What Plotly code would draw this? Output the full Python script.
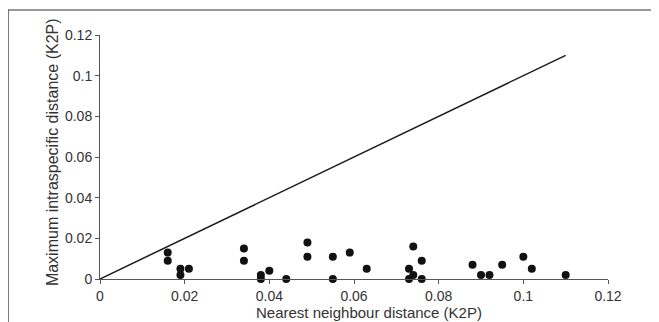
import plotly.graph_objects as go

nn_dist = [0.016, 0.016, 0.019, 0.019, 0.021, 0.034, 0.034, 0.038, 0.038, 0.040,
           0.044, 0.049, 0.049, 0.055, 0.055, 0.059, 0.063, 0.073, 0.073, 0.074,
           0.074, 0.076, 0.076, 0.088, 0.090, 0.092, 0.095, 0.100, 0.102, 0.110]
max_intra = [0.013, 0.009, 0.005, 0.002, 0.005, 0.015, 0.009, 0.002, 0.000, 0.004,
             0.000, 0.018, 0.011, 0.011, 0.000, 0.013, 0.005, 0.005, 0.000, 0.016,
             0.002, 0.009, 0.000, 0.007, 0.002, 0.002, 0.007, 0.011, 0.005, 0.002]
line_x = [0, 0.11]
line_y = [0, 0.11]
tick_vals = [0, 0.02, 0.04, 0.06, 0.08, 0.1, 0.12]
tick_text = ["0", "0.02", "0.04", "0.06", "0.08", "0.1", "0.12"]
x_title = "Nearest neighbour distance (K2P)"
y_title = "Maximum intraspecific distance (K2P)"

fig = go.Figure()
fig.add_trace(go.Scatter(x=line_x, y=line_y, mode="lines",
                         line=dict(color="#1a1a1a", width=1.5), showlegend=False,
                         cliponaxis=False))
fig.add_trace(go.Scatter(x=nn_dist, y=max_intra, mode="markers",
                         marker=dict(color="#111111", size=8), showlegend=False,
                         cliponaxis=False))

font = "Liberation Sans, Arial, sans-serif"
narrow = "Liberation Sans Narrow, Arial Narrow, Liberation Sans, sans-serif"
axis_common = dict(
    range=[0, 0.12], tickvals=tick_vals, ticktext=tick_text, automargin=False,
    showgrid=False, zeroline=False, showline=True, linecolor="#555555", linewidth=1,
    ticks="outside", ticklen=4, tickcolor="#555555", tickwidth=1,
    tickfont=dict(family=narrow, size=14, color="#333333"),
)
fig.update_xaxes(**axis_common)
fig.update_yaxes(**axis_common)

fig.add_annotation(text=x_title, xref="paper", yref="paper", x=0.5305, y=-0.139,
                   xanchor="center", yanchor="middle", showarrow=False,
                   font=dict(family=font, size=15, color="#333333"))
fig.add_annotation(text=y_title, xref="paper", yref="paper", x=-0.0945, y=0.52,
                   xanchor="center", yanchor="middle", showarrow=False, textangle=-90,
                   font=dict(family=font, size=16, color="#333333"))

fig.add_shape(type="rect", xref="paper", yref="paper",
              x0=-0.181, x1=1.2, y0=-0.3, y1=1.1025,
              line=dict(color="#333333", width=1.2), fillcolor="rgba(0,0,0,0)")

# page body has an 8px margin, so the figure is offset by 8px right and down
fig.update_layout(
    width=659, height=322,
    margin=dict(l=92, r=59, t=27, b=51),
    paper_bgcolor="white", plot_bgcolor="white",
)
fig.write_html("out.html")
